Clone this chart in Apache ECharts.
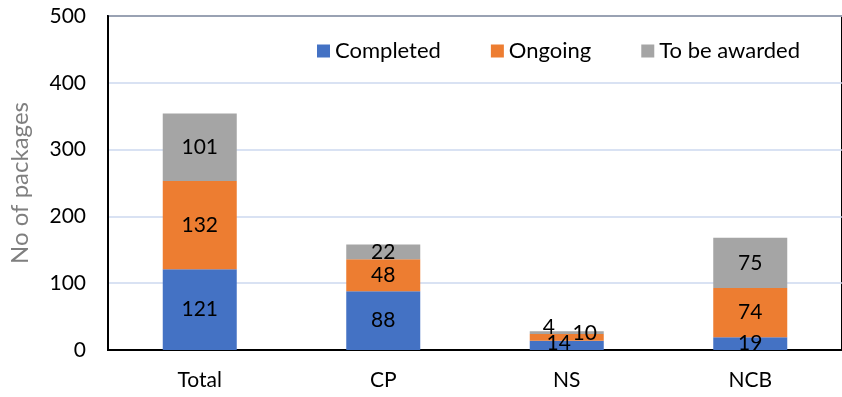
<!DOCTYPE html>
<html>
<head>
<meta charset="utf-8">
<script src="https://cdn.jsdelivr.net/npm/echarts@6/dist/echarts.min.js"></script>
<style>html,body{margin:0;padding:0;background:#fff}#c{width:842px;height:397px}</style>
</head>
<body>
<div id="c"></div>
<script>
var categories = ['Total', 'CP', 'NS', 'NCB'];
var completed = [121, 88, 14, 19];
var ongoing = [132, 48, 10, 74];
var toBeAwarded = [101, 22, 4, 75];
var yTicks = [0, 100, 200, 300, 400, 500];

var FONT = 'Lato';
// per-point label nudges (NS labels are displaced in the reference)
var offCompleted = [[0,0],[0,0],[-8,-2],[0,0]];
var offOngoing = [[0,0],[0,0],[18,-4],[0,0]];
var offAwarded = [[0,0],[0,0],[-18,-5],[0,0]];

function mk(vals, offs) {
  return vals.map(function (v, i) {
    return { value: v, label: { offset: offs[i] } };
  });
}
function series(name, color, vals, offs) {
  return {
    name: name, type: 'bar', stack: 's', barWidth: 74,
    itemStyle: { color: color },
    label: { show: true, position: 'inside', color: '#000', fontFamily: FONT, fontSize: 21 },
    data: mk(vals, offs)
  };
}
var chart = echarts.init(document.getElementById('c'));
chart.setOption({
  animation: false,
  textStyle: { fontFamily: FONT },
  grid: { left: 103, width: 747, top: 16, bottom: 47, show: true, borderColor: '#000', borderWidth: 2, backgroundColor: 'transparent' },
  legend: {
    top: 35, left: 312, itemWidth: 13, itemHeight: 13, itemGap: 50,
    icon: 'rect',
    textStyle: { fontFamily: FONT, fontSize: 22, color: '#000' },
    data: ['Completed', 'Ongoing', 'To be awarded']
  },
  xAxis: {
    type: 'category', data: categories,
    axisLine: { lineStyle: { color: '#000', width: 2 } },
    axisTick: { show: false },
    axisLabel: { color: '#000', fontFamily: FONT, fontSize: 21, margin: 20 }
  },
  yAxis: {
    type: 'value', min: yTicks[0], max: yTicks[yTicks.length - 1], interval: 100,
    name: 'No of packages', nameLocation: 'middle', nameGap: 76,
    nameTextStyle: { color: '#7f7f7f', fontFamily: FONT, fontSize: 24 },
    axisLine: { show: true, lineStyle: { color: '#000', width: 2 } },
    axisTick: { show: false },
    axisLabel: { color: '#000', fontFamily: FONT, fontSize: 21, margin: 22 },
    splitLine: { lineStyle: { color: '#cdd9ef', width: 1.5 } }
  },
  series: [
    series('Completed', '#4472C4', completed, offCompleted),
    series('Ongoing', '#ED7D31', ongoing, offOngoing),
    series('To be awarded', '#A5A5A5', toBeAwarded, offAwarded)
  ]
});
</script>
</body>
</html>
